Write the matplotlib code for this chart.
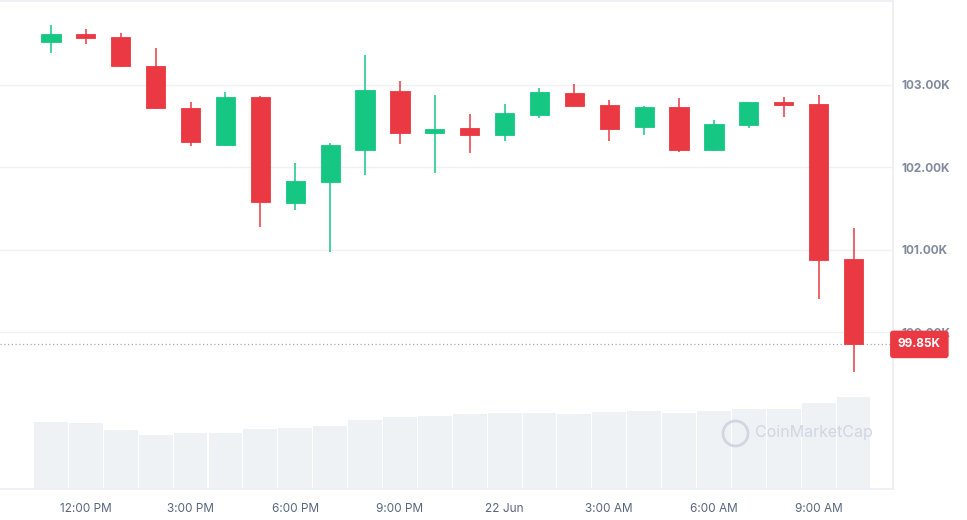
import matplotlib.pyplot as plt
import numpy as np

plt.rcParams["font.family"] = ["Inter", "DejaVu Sans"]

# hourly candles, 21 Jun 11:00 AM -> 22 Jun 10:00 AM
opens = [103524, 103617, 103577, 103226, 102718, 102274, 102855, 101570,
         101823, 102206, 102927, 102411, 102476, 102395, 102641, 102900,
         102762, 102492, 102734, 102206, 102520, 102791, 102775, 100884]
highs = [103725, 103686, 103637, 103444, 102790, 102912, 102871, 102057,
         102295, 103363, 103048, 102879, 102653, 102774, 102964, 103008,
         102819, 102746, 102843, 102573, 102799, 102855, 102875, 101267]
lows = [103390, 103500, 103220, 102710, 102262, 102254, 101275, 101485,
        100977, 101903, 102287, 101932, 102178, 102316, 102605, 102750,
        102316, 102395, 102182, 102200, 102476, 102613, 100400, 99510]
closes = [103617, 103565, 103226, 102718, 102302, 102855, 101582, 101836,
          102274, 102940, 102411, 102464, 102395, 102666, 102912, 102751,
          102468, 102734, 102206, 102528, 102791, 102763, 100872, 99850]
volumes = [67, 66, 59, 54, 56, 56, 60, 61, 63, 69, 72, 73,
           75, 76, 76, 75, 77, 78, 76, 78, 80, 80, 86, 92]

tick_pos = [1, 4, 7, 10, 13, 16, 19, 22]
tick_labels = ["12:00 PM", "3:00 PM", "6:00 PM", "9:00 PM", "22 Jun",
               "3:00 AM", "6:00 AM", "9:00 AM"]
price_ticks = [100000, 101000, 102000, 103000]
last_price = 99850

GREEN = "#16c784"
RED = "#ea3943"

fig = plt.figure(figsize=(9.67, 5.2), dpi=100)
rect = [0.0, 31 / 520, 893 / 967, 488 / 520]

# volume underneath
vx = fig.add_axes(rect)
x = np.arange(len(opens))
vx.bar(x, volumes, width=0.97, color="#eff2f5", zorder=1)
vx.set_ylim(0, max(volumes) / 0.1885)
vx.set_yticks([])
vx.tick_params(axis="x", labelbottom=False, length=0)
for s in vx.spines.values():
    s.set_visible(False)

ax = fig.add_axes(rect, sharex=vx)
ax.set_facecolor("none")

o = np.array(opens)
c = np.array(closes)
up = c >= o
colors = np.where(up, GREEN, RED)
ax.vlines(x, lows, highs, colors=colors, linewidth=1.3, alpha=0.85, zorder=3)
body_lo = np.minimum(o, c)
body_h = np.maximum(np.abs(c - o), 25)
ax.bar(x, body_h, bottom=body_lo, width=0.55, color=colors,
       edgecolor=colors, linewidth=0.6, zorder=4)

ax.set_xlim(-1.46, 24.13)
ax.set_ylim(98094, 104020)

ax.set_yticks(price_ticks)
ax.set_yticklabels([f"{p / 1000:.2f}K" for p in price_ticks])
ax.yaxis.tick_right()
ax.tick_params(axis="y", length=0, pad=6, labelsize=8.5, labelcolor="#808a9d")
for t in ax.get_yticklabels():
    t.set_fontweight("bold")
ax.grid(axis="y", color="#f1f1f1", linewidth=1, zorder=0)

ax.set_xticks(tick_pos)
ax.set_xticklabels(tick_labels)
ax.tick_params(axis="x", length=0, pad=10, labelsize=8.5, labelcolor="#58667e")

for name, s in ax.spines.items():
    s.set_color("#eceef1")
    s.set_linewidth(1.2)
ax.spines["left"].set_visible(False)

# current price line and tag
ax.axhline(last_price, color="#a7adb7", linestyle=(0, (1, 2)), linewidth=0.9, zorder=2)
ax.annotate(f"{last_price / 1000:.2f}K", xy=(1.0, last_price),
            xycoords=("axes fraction", "data"), xytext=(3.5, 0),
            textcoords="offset points", ha="left", va="center",
            fontsize=8.5, fontweight="bold", color="white", zorder=10,
            bbox=dict(boxstyle="round,pad=0.6,rounding_size=0.2",
                      fc=RED, ec=RED), annotation_clip=False)

# watermark
ax.text(0.845, 0.115, "CoinMarketCap", transform=ax.transAxes, fontsize=11.5,
        color="#d0d6e2", ha="left", va="center", zorder=1)
ax.plot([0.823], [0.115], marker="o", markersize=18, markerfacecolor="none",
        markeredgecolor="#d0d6e2", markeredgewidth=2, transform=ax.transAxes,
        zorder=1)

fig.savefig("out.png", dpi=100)
